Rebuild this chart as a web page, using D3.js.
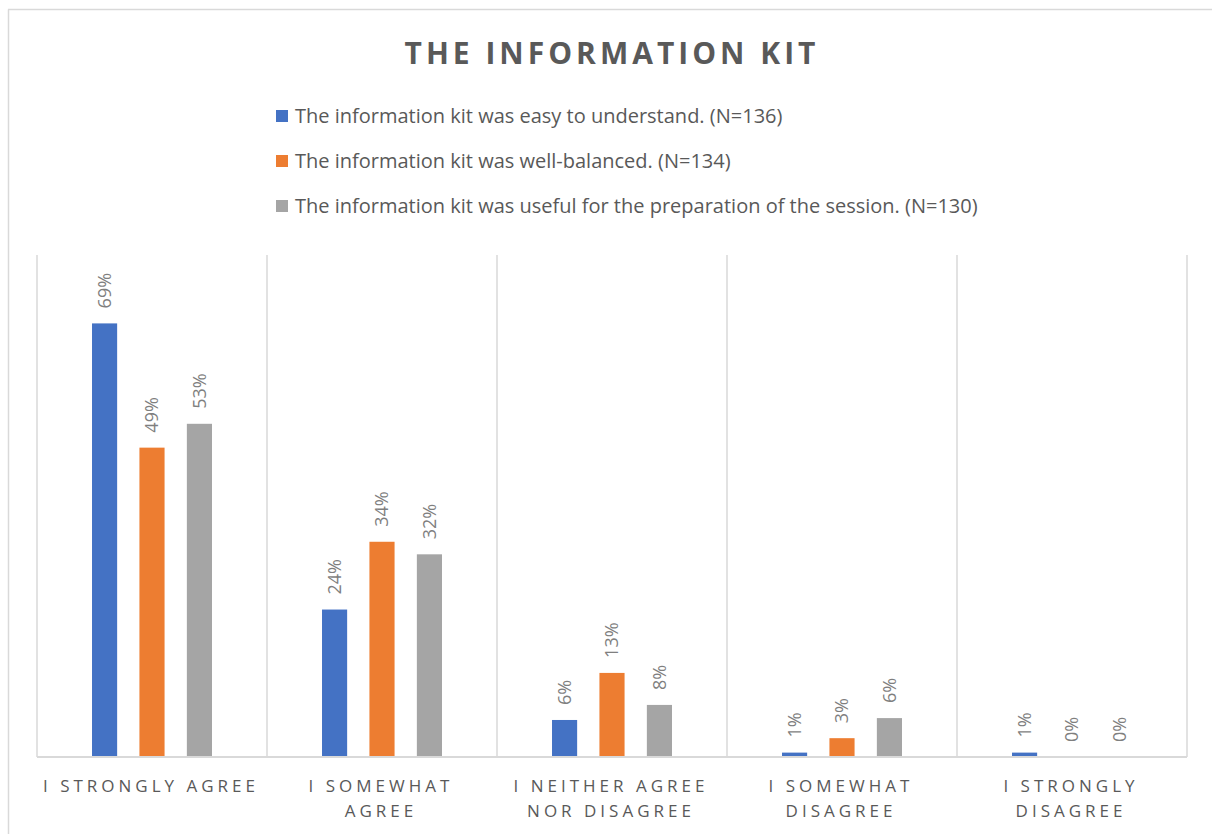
<!DOCTYPE html>
<html>
<head>
<meta charset="utf-8">
<script src="https://cdn.jsdelivr.net/npm/d3@7"></script>
<style>
  body { margin: 0; background: #fff; }
  text { font-family: "Open Sans", sans-serif; }
</style>
</head>
<body>
<div id="chart"></div>
<script>
// categories + tick labels (wrapped the way the picture does)
var categories = ["I strongly agree", "I somewhat agree", "I neither agree nor disagree", "I somewhat disagree", "I strongly disagree"];
var tickLines = [["I STRONGLY AGREE"], ["I SOMEWHAT", "AGREE"], ["I NEITHER AGREE", "NOR DISAGREE"], ["I SOMEWHAT", "DISAGREE"], ["I STRONGLY", "DISAGREE"]];

var seriesNames = [
  "The information kit was easy to understand. (N=136)",
  "The information kit was well-balanced. (N=134)",
  "The information kit was useful for the preparation of the session. (N=130)"
];
var colors = ["#4472c4", "#ed7d31", "#a5a5a5"];

// percent values
var easyValues = [69.1, 23.5, 5.9, 0.7, 0.7];
var balancedValues = [49.3, 34.3, 13.4, 3.0, 0];
var usefulValues = [53.1, 32.3, 8.3, 6.2, 0];
var allValues = [easyValues, balancedValues, usefulValues];

var width = 1212,
    height = 834;

var svg = d3.select('#chart')
  .append('svg')
  .attr('width', width)
  .attr('height', height);

// chart frame (only top + left edges show)
svg.append('line')
  .attr('x1', 8).attr('x2', width).attr('y1', 9.5).attr('y2', 9.5)
  .attr('stroke', '#d9d9d9').attr('stroke-width', 1.5);
svg.append('line')
  .attr('x1', 8.5).attr('x2', 8.5).attr('y1', 9.5).attr('y2', height)
  .attr('stroke', '#d9d9d9').attr('stroke-width', 1.5);

// title
svg.append('text')
  .attr('x', 612)
  .attr('y', 64)
  .attr('text-anchor', 'middle')
  .style('font-size', '30px')
  .style('font-weight', 'bold')
  .style('letter-spacing', '4px')
  .style('fill', '#595959')
  .text('THE INFORMATION KIT');

// legend
var legend = svg.selectAll('.legend')
  .data(seriesNames)
  .enter()
  .append('g')
  .attr('class', 'legend')
  .attr('transform', (d, i) => 'translate(276,' + (116 + i * 45) + ')');

legend.append('rect')
  .attr('x', 0).attr('y', -6)
  .attr('width', 12).attr('height', 12)
  .attr('fill', (d, i) => colors[i]);

legend.append('text')
  .attr('x', 19)
  .attr('y', 0)
  .attr('dy', '0.35em')
  .style('font-size', '20px')
  .style('fill', '#595959')
  .text(d => d);

// scales
var x = d3.scaleBand()
  .domain(categories)
  .range([37, 1187]);

var xs = d3.scaleBand()
  .domain(d3.range(3))
  .range([0, x.bandwidth()])
  .paddingInner(0.47)
  .paddingOuter(1.16);

var y = d3.scaleLinear()
  .domain([0, 80])
  .range([757, 255]);

// vertical gridlines at the category borders
var borders = categories.map(c => x(c)).concat([x.range()[1]]);
svg.selectAll('.grid')
  .data(borders)
  .enter()
  .append('line')
  .attr('class', 'grid')
  .attr('x1', d => d).attr('x2', d => d)
  .attr('y1', y(80)).attr('y2', y(0))
  .attr('stroke', '#d9d9d9')
  .attr('stroke-width', 1.5);

// bars
var groups = svg.selectAll('.cat')
  .data(categories)
  .enter()
  .append('g')
  .attr('class', 'cat')
  .attr('transform', d => 'translate(' + x(d) + ',0)');

var cells = groups.selectAll('.bar')
  .data((d, ci) => allValues.map((vals, si) => ({ s: si, v: vals[ci] })))
  .enter();

cells.append('rect')
  .attr('class', 'bar')
  .attr('x', d => xs(d.s))
  .attr('y', d => y(d.v))
  .attr('width', xs.bandwidth())
  .attr('height', d => y(0) - y(d.v))
  .attr('fill', d => colors[d.s]);

// rotated data labels
cells.append('text')
  .attr('transform', d => 'translate(' + (xs(d.s) + xs.bandwidth() / 2) + ',' + (y(d.v) - 15) + ') rotate(-90)')
  .attr('dy', '0.35em')
  .style('font-size', '18px')
  .style('fill', '#7f7f7f')
  .text(d => Math.round(d.v) + '%');

// baseline
svg.append('line')
  .attr('x1', 37).attr('x2', 1187)
  .attr('y1', y(0)).attr('y2', y(0))
  .attr('stroke', '#d9d9d9')
  .attr('stroke-width', 2);

// category labels
var ticks = svg.selectAll('.tick')
  .data(categories)
  .enter()
  .append('text')
  .attr('class', 'tick')
  .attr('text-anchor', 'middle')
  .style('font-size', '17px')
  .style('letter-spacing', '4px')
  .style('fill', '#595959');

ticks.selectAll('tspan')
  .data((d, i) => tickLines[i])
  .enter()
  .append('tspan')
  .attr('x', function() { return x(d3.select(this.parentNode).datum()) + x.bandwidth() / 2 - 1; })
  .attr('y', (d, i) => 792 + i * 25)
  .text(d => d);
</script>
</body>
</html>
